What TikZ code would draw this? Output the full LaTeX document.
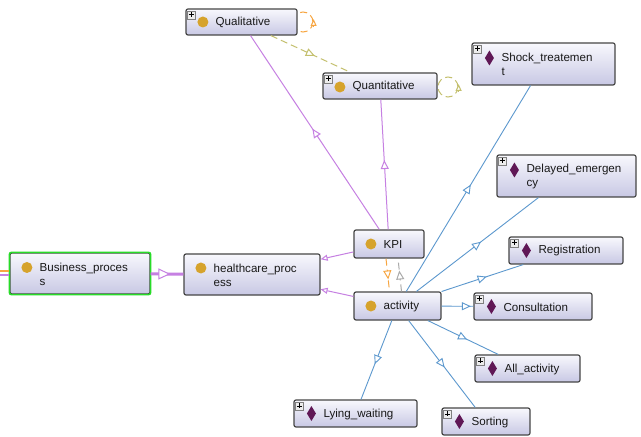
\documentclass[tikz,border=0pt]{standalone}
\usepackage{fontspec}
\setmainfont{Liberation Sans}
\usepackage{tikz}
\usetikzlibrary{arrows.meta,calc,positioning,decorations.markings}
\definecolor{boxline}{RGB}{70,70,70}
\definecolor{boxtop}{RGB}{248,248,253}
\definecolor{boxbottom}{RGB}{200,200,228}
\definecolor{classdot}{RGB}{214,163,44}
\definecolor{indivmark}{RGB}{96,24,86}
\definecolor{subline}{RGB}{198,128,226}
\definecolor{instline}{RGB}{92,152,206}
\definecolor{looporange}{RGB}{247,166,66}
\definecolor{loopolive}{RGB}{196,192,110}
\definecolor{seegray}{RGB}{170,170,170}
\definecolor{selgreen}{RGB}{40,220,40}
\tikzset{
  ontobox/.style={draw=boxline,line width=1.2bp,rounded corners=2bp,top color=boxtop,bottom color=boxbottom,inner sep=0pt},
  ontotext/.style={anchor=west,inner sep=0pt,align=left,text=black!90,font=\fontsize{11.6bp}{14bp}\selectfont},
  plusframe/.style={draw=gray,fill=gray!15,line width=0.6bp},
  midtri/.style={postaction={decorate,decoration={markings,
    mark=at position #1 with {\arrow[xshift=4.5bp]{Triangle[open,fill=white,length=9bp,width=8bp]}}}}},
  endtri/.style={-{Triangle[open,fill=white,length=7bp,width=6bp]}},
  subedge/.style={subline,line width=1bp},
  instedge/.style={instline,line width=0.9bp},
  dashedge/.style={line width=1bp,dash pattern=on 7bp off 4bp}
}
\newcommand{\ontonode}[5]{%
  \node[ontobox,minimum width=#3bp,minimum height=#4bp] (#1) at (#2) {};%
  \node[ontotext] (#1 text) at ($(#1.west)+(30,0.5)$) {#5};%
}
\newcommand{\classicon}[2]{\fill[classdot] ($(#1.west)+(17.5,#2)$) circle[radius=5.5bp];}
\newcommand{\indivicon}[2]{\fill[indivmark] ($(#1.west)+(18,#2)$) +(0,-7.5) -- +(4.5,0) -- +(0,7.5) -- +(-4.5,0) -- cycle;}
\newcommand{\plusbox}[1]{%
  \draw[plusframe] ($(#1.north west)+(2,2.5)$) rectangle +(8,8);%
  \draw[line width=0.8bp] ($(#1.north west)+(3.5,6.5)$) -- +(5,0) ($(#1.north west)+(6,4)$) -- +(0,5);%
}

\begin{document}
\begin{tikzpicture}[x=1bp,y=-1bp]
  \fill[white] (0,0) rectangle (641,437);
  \useasboundingbox (0,0) rectangle (641,437);
  % self loops behind the boxes
  \draw[looporange,dashedge] (303,22) circle[radius=10];
  \draw[loopolive,dashedge] (448,87) circle[radius=10];
  % classes
  \ontonode{qual}{241.5,22}{111}{26}{Qualitative}
  \ontonode{quant}{380,86}{114}{26}{Quantitative}
  \ontonode{kpi}{389,244}{70}{28}{KPI}
  \ontonode{activity}{397.5,306}{87}{28}{activity}
  \ontonode{hc}{252,274.5}{136}{41}{healthcare\_proc\\ess}
  \ontonode{busi}{80,273.5}{140}{41}{Business\_proces\\s}
  \draw[selgreen,line width=1.6bp,rounded corners=2bp] (busi.north west) rectangle (busi.south east);
  \classicon{qual}{0} \classicon{quant}{1} \classicon{kpi}{0}
  \classicon{activity}{0} \classicon{hc}{-6.5} \classicon{busi}{-6}
  \plusbox{qual} \plusbox{quant}
  % individuals
  \ontonode{shock}{543.5,64}{143}{42}{Shock\_treatemen\\t}
  \ontonode{delayed}{566.5,176}{139}{42}{Delayed\_emergen\\cy}
  \ontonode{regis}{566,250.5}{114}{27}{Registration}
  \ontonode{consult}{533,306.5}{118}{27}{Consultation}
  \ontonode{allact}{527.5,368.5}{105}{27}{All\_activity}
  \ontonode{lying}{355.5,413.5}{123}{27}{Lying\_waiting}
  \ontonode{sorting}{486,421.5}{88}{27}{Sorting}
  \indivicon{shock}{-6} \indivicon{delayed}{-6}
  \foreach \ind in {regis,consult,allact,lying,sorting} {\indivicon{\ind}{0}}
  \foreach \ind in {shock,delayed,regis,consult,allact,lying,sorting} {\plusbox{\ind}}
  % loop tips
  \draw[looporange,endtri,line width=1bp] ($(qual.east)+(16,4)$) -- ($(qual.east)+(16,-3)$);
  \draw[loopolive,endtri,line width=1bp] ($(quant.east)+(21,5)$) -- ($(quant.east)+(21,-2)$);
  % subclass links
  \draw[subedge,midtri=0.5] (kpi) -- (qual);
  \draw[subedge,midtri=0.5] (kpi) -- (quant);
  \draw[subedge,endtri] (kpi) -- (hc);
  \draw[subedge,endtri] (activity) -- (hc);
  \draw[subline,line width=3bp,postaction={decorate,decoration={markings,
    mark=at position 0.42 with {\arrow[xshift=6bp]{Triangle[open,fill=white,length=12bp,width=11bp,line width=1bp]}}}}] (busi) -- (hc);
  \coordinate (offleft) at (0,271);
  \draw[looporange,line width=2bp] (offleft) -- (busi.west |- offleft);
  \draw[subline,line width=2bp] ($(offleft)+(0,4)$) -- ($(busi.west |- offleft)+(0,4)$);
  % other links
  \draw[loopolive,dashedge,midtri=0.5] (qual) -- (quant);
  \draw[looporange,dashedge,midtri=0.5] ($(kpi.south)+(-3,0)$) -- ($(activity.north)+(-8,0)$);
  \draw[seegray,dashedge,midtri=0.5] ($(activity.north)+(4,0)$) -- ($(kpi.south)+(9,0)$);
  % instances of activity
  \foreach \leaf/\pos in {shock/0.5,delayed/0.5,regis/0.5,consult/0.78,allact/0.5,lying/0.5,sorting/0.5}
    {\draw[instedge,midtri=\pos] (activity) -- (\leaf);}
\end{tikzpicture}
\end{document}
